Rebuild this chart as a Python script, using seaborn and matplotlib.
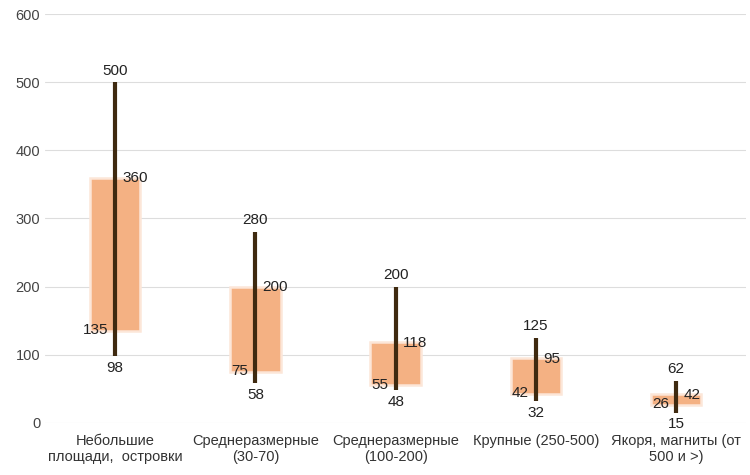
import matplotlib
matplotlib.use("Agg")
import matplotlib.pyplot as plt
import seaborn as sns
import numpy as np

categories = ["Небольшие\nплощади,  островки", "Среднеразмерные\n(30-70)", "Среднеразмерные\n(100-200)", "Крупные (250-500)", "Якоря, магниты (от\n500 и >)"]
low = [98, 58, 48, 32, 15]
high = [500, 280, 200, 125, 62]
box_low = [135, 75, 55, 42, 26]
box_high = [360, 200, 118, 95, 42]

sns.set_theme(style="whitegrid", font="Liberation Sans")
fig, ax = plt.subplots(figsize=(7.5, 4.75), dpi=100)
fig.subplots_adjust(left=0.06, right=0.995, top=0.97, bottom=0.11)
x = np.arange(len(categories))
ax.bar(x, np.array(box_high) - np.array(box_low), bottom=box_low, width=0.36,
       color="#F4B183", edgecolor="#FCE6D8", linewidth=1.8, zorder=2)
ax.vlines(x, low, high, color="#3F2A10", linewidth=3, zorder=3)
fs = 11
for i in x:
    ax.text(i, high[i] + 7, str(high[i]), ha="center", va="bottom", fontsize=fs, color="#222")
    ax.text(i, low[i] - 7, str(low[i]), ha="center", va="top", fontsize=fs, color="#222")
    ax.text(i + 0.05, box_high[i] - 1, str(box_high[i]), ha="left", va="center", fontsize=fs, color="#222")
    ax.text(i - 0.05, box_low[i] + 1, str(box_low[i]), ha="right", va="center", fontsize=fs, color="#222")
ax.set_xlim(-0.5, 4.5)
ax.set_ylim(0, 600)
ax.set_yticks(range(0, 601, 100))
ax.set_xticks(x)
ax.set_xticklabels(categories, fontsize=10.5, color="#333")
ax.tick_params(axis="y", labelsize=10.5, labelcolor="#444", length=0)
ax.tick_params(axis="x", length=0, pad=8)
ax.grid(axis="x", visible=False)
ax.grid(axis="y", color="#DDDDDD", linewidth=0.8)
for s in ax.spines.values():
    s.set_visible(False)
fig.savefig("out.png")
